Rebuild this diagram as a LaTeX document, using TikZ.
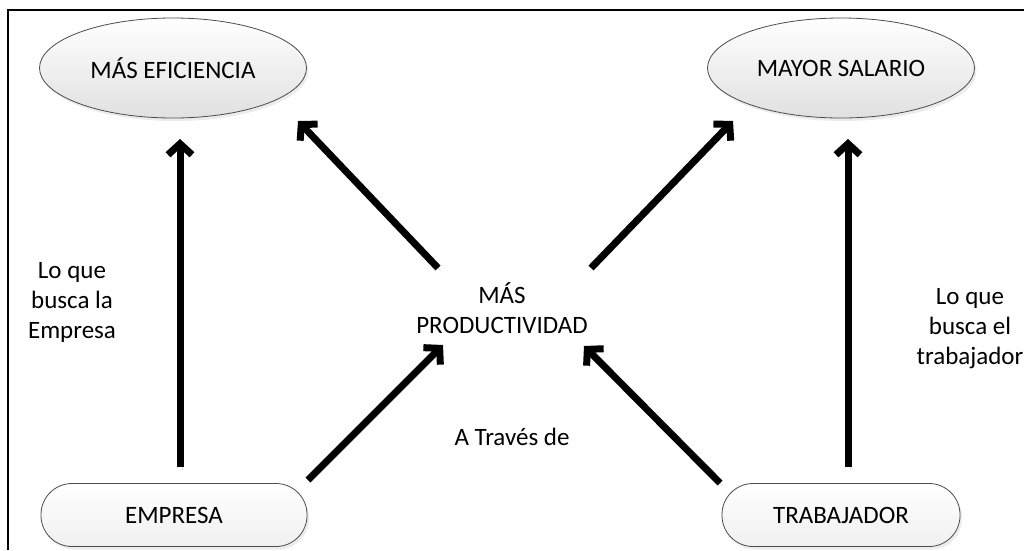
\documentclass[tikz,border=0pt]{standalone}
\usepackage{fontspec}
\setmainfont{Carlito}
\usetikzlibrary{arrows.meta,shapes.geometric,shadows}
\begin{document}
\begin{tikzpicture}[x=1pt,y=-1pt,
  every node/.style={font=\fontsize{25}{30}\selectfont},
  ell/.style={ellipse, draw=black!70, line width=0.8pt, top color=white, bottom color=black!12,
    minimum width=267pt, minimum height=100pt, inner sep=0pt,
    drop shadow={shadow xshift=2pt, shadow yshift=-3pt, opacity=0.15}},
  pill/.style={rectangle, rounded corners=31pt, draw=black!70, line width=0.8pt, top color=white, bottom color=black!6,
    minimum height=63pt, inner sep=0pt,
    drop shadow={shadow xshift=2pt, shadow yshift=-3pt, opacity=0.15}},
  txt/.style={align=center, inner sep=0pt},
  bigarrow/.style={line width=7pt, -{Straight Barb[length=11pt,width=24pt,line join=miter]},
    preaction={draw=black!15, transform canvas={shift={(2.5pt,-2.5pt)}}}}
]
\useasboundingbox (0,0) rectangle (1024,550);
\fill[white] (0,0) rectangle (1024,550);
% frame
\draw[line width=2pt] (8,550) -- (8,10) -- (1024,10);

\node[ell] (eff) at (173,68) {MÁS EFICIENCIA};
\node[ell] (sal) at (841,68) {MAYOR SALARIO};
\node[pill, minimum width=266pt] (emp) at (174,515) {EMPRESA};
\node[pill, minimum width=238pt] (trab) at (841,515) {TRABAJADOR};

\node[txt] (prod) at (502,308) {MÁS\\PRODUCTIVIDAD};
\node[txt] (lq1) at (72,302) {Lo que\\busca la\\Empresa};
\node[txt] (lq2) at (970,329) {Lo que\\busca el\\trabajador};
\node[txt] (via) at (512,437) {A Través de};

\coordinate (a1s) at (180,467); \coordinate (a1e) at (180,139);
\coordinate (a2s) at (848,467); \coordinate (a2e) at (848,139);
\coordinate (a3s) at (438,268); \coordinate (a3e) at (298,121);
\coordinate (a4s) at (591,268); \coordinate (a4e) at (733,121);
\coordinate (a5s) at (308,480); \coordinate (a5e) at (443,345);
\coordinate (a6s) at (720,483); \coordinate (a6e) at (584,346);

\draw[bigarrow] (a1s) -- (a1e);
\draw[bigarrow] (a2s) -- (a2e);
\draw[bigarrow] (a3s) -- (a3e);
\draw[bigarrow] (a4s) -- (a4e);
\draw[bigarrow] (a5s) -- (a5e);
\draw[bigarrow] (a6s) -- (a6e);
\end{tikzpicture}
\end{document}
